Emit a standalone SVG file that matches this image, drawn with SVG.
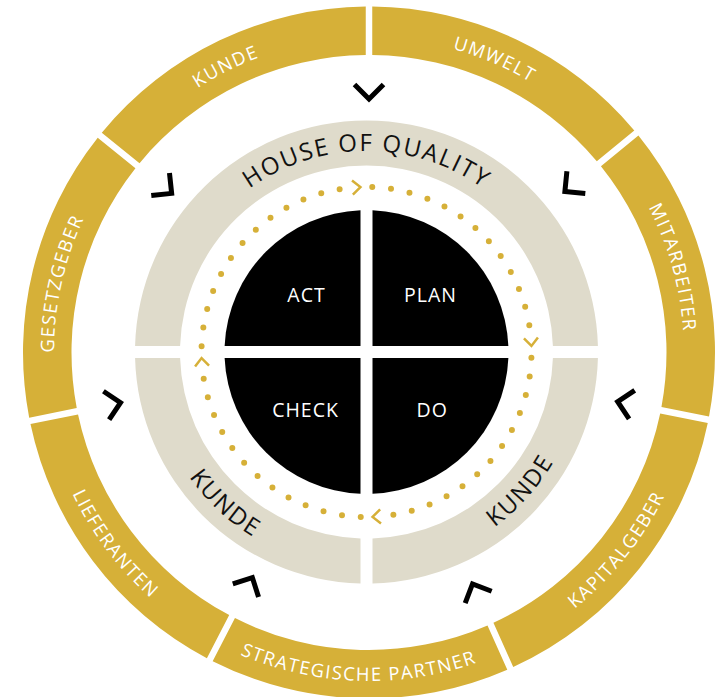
<svg xmlns="http://www.w3.org/2000/svg" width="717" height="697" viewBox="0 0 717 697">
<style>
.seg{fill:#d6b038}
.beige{fill:#dfdbcb}
.quad{fill:#000}
.ot{font-family:"Open Sans","Liberation Sans",sans-serif;font-size:18.5px;font-weight:400;fill:#fff;letter-spacing:1.5px;text-anchor:middle}
.it{font-family:"Open Sans","Liberation Sans",sans-serif;font-size:24px;font-weight:400;fill:#111;letter-spacing:1.8px;text-anchor:middle}
.ct{font-family:"Open Sans","Liberation Sans",sans-serif;font-size:19.5px;font-weight:400;fill:#fff;letter-spacing:1px;text-anchor:middle}
.chev{fill:none;stroke:#000;stroke-width:5;stroke-linejoin:miter}
.gchev{fill:none;stroke:#d6b038;stroke-width:2.5}
.dots{fill:none;stroke:#d6b038;stroke-width:6;stroke-linecap:round;stroke-dasharray:0 18.862}
</style>
<defs>
<path id="outerTop" d="M 54 352.5 A 315 315 0 0 1 684 352.5"/>
<path id="outerBot" d="M 40.5 352.5 A 328.5 328.5 0 0 0 697.5 352.5"/>
<path id="innerTop" d="M 165.5 352 A 201 201 0 0 1 567.5 352"/>
<path id="innerBot" d="M 149.5 352 A 217 217 0 0 0 583.5 352"/>
<polyline id="bchev" class="chev" points="-14.5,-7 0,7.5 14.5,-7"/>
<polyline id="gch" class="gchev" points="-4,-7 4,0 -4,7"/>
<path id="dq" class="dots" d="M 372.26 187.10 A 165 165 0 0 1 529.47 326.19"/>
</defs>

<g id="outer-ring">
<g id="seg-umwelt"><path class="seg" d="M 372.249 6.515 A 346 346 0 0 1 634.292 130.382 L 596.811 161.167 A 297.5 297.5 0 0 0 372.250 55.018 Z"/><text class="ot" transform="rotate(23.2 369 352.5)"><textPath href="#outerTop" startOffset="50%">UMWELT</textPath></text></g>
<g id="seg-mitarbeiter"><path class="seg" d="M 638.417 135.403 A 346 346 0 0 1 709.027 416.515 L 661.448 407.093 A 297.5 297.5 0 0 0 600.939 166.189 Z"/><text class="ot" transform="rotate(74.4 369 352.5)"><textPath href="#outerTop" startOffset="50%">MITARBEITER</textPath></text></g>
<g id="seg-kapitalgeber"><path class="seg" d="M 707.764 422.889 A 346 346 0 0 1 513.242 667.000 L 493.438 622.725 A 297.5 297.5 0 0 0 660.186 413.470 Z"/><text class="ot" transform="rotate(-51.45 369 352.5)"><textPath href="#outerBot" startOffset="50%">KAPITALGEBER</textPath></text></g>
<g id="seg-partner"><path class="seg" d="M 507.310 669.654 A 346 346 0 0 1 212.662 661.167 L 234.984 618.107 A 297.5 297.5 0 0 0 487.504 625.379 Z"/><text class="ot" transform="rotate(1.9 369 352.5)"><textPath href="#outerBot" startOffset="50%">STRATEGISCHE PARTNER</textPath></text></g>
<g id="seg-lieferanten"><path class="seg" d="M 206.894 658.176 A 346 346 0 0 1 30.483 424.071 L 78.029 414.486 A 297.5 297.5 0 0 0 229.213 615.114 Z"/><text class="ot" transform="rotate(53 369 352.5)"><textPath href="#outerBot" startOffset="50%">LIEFERANTEN</textPath></text></g>
<g id="seg-gesetzgeber"><path class="seg" d="M 29.199 417.701 A 346 346 0 0 1 97.700 137.763 L 135.446 168.221 A 297.5 297.5 0 0 0 76.744 408.113 Z"/><text class="ot" transform="rotate(-77.4 369 352.5)"><textPath href="#outerTop" startOffset="50%">GESETZGEBER</textPath></text></g>
<g id="seg-kunde"><path class="seg" d="M 101.780 132.706 A 346 346 0 0 1 365.751 6.515 L 365.750 55.018 A 297.5 297.5 0 0 0 139.528 163.163 Z"/><text class="ot" transform="rotate(-26.6 369 352.5)"><textPath href="#outerTop" startOffset="50%">KUNDE</textPath></text></g>
</g>

<g id="connectors">
<g id="black-chevrons">
<use href="#bchev" transform="translate(369 91.5)"/>
<use href="#bchev" transform="translate(570.69 186.83) rotate(50.6)"/>
<use href="#bchev" transform="translate(625.03 403.19) rotate(101.2)"/>
<use href="#bchev" transform="translate(475.57 590.75) rotate(155.9)"/>
<use href="#bchev" transform="translate(248.89 584.22) rotate(207.4)"/>
<use href="#bchev" transform="translate(113.15 404.09) rotate(258.6)"/>
<use href="#bchev" transform="translate(165.82 188.67) rotate(308.9)"/>
</g>
<g id="cycle">
<use href="#dq"/>
<use href="#dq" transform="rotate(90 366.5 352)"/>
<use href="#dq" transform="rotate(180 366.5 352)"/>
<use href="#dq" transform="rotate(270 366.5 352)"/>
<use href="#gch" transform="translate(356.43 187.31) rotate(-3.5)"/>
<use href="#gch" transform="translate(531.19 341.93) rotate(86.5)"/>
<use href="#gch" transform="translate(376.57 516.69) rotate(176.5)"/>
<use href="#gch" transform="translate(201.81 362.07) rotate(266.5)"/>
</g>
</g>

<g id="house-of-quality">
<path class="beige" d="M 135.078 346 A 231.5 231.5 0 0 1 597.922 346 L 552.903 346 A 186.5 186.5 0 0 0 180.097 346 Z"/>
<text class="it"><textPath href="#innerTop" startOffset="50%">HOUSE OF QUALITY</textPath></text>
</g>
<g id="kunde-left">
<path class="beige" d="M 135.078 358 L 180.097 358 A 186.5 186.5 0 0 0 360.5 538.403 L 360.5 583.422 A 231.5 231.5 0 0 1 135.078 358 Z"/>
<text class="it" transform="rotate(43 366.5 352)"><textPath href="#innerBot" startOffset="50%">KUNDE</textPath></text>
</g>
<g id="kunde-right">
<path class="beige" d="M 372.5 538.403 L 372.5 583.422 A 231.5 231.5 0 0 0 597.922 358 L 552.903 358 A 186.5 186.5 0 0 1 372.5 538.403 Z"/>
<text class="it" transform="rotate(-48 366.5 352)"><textPath href="#innerBot" startOffset="50%">KUNDE</textPath></text>
</g>

<g id="act">
<path class="quad" d="M 360.5 346 L 224.627 346 A 142 142 0 0 1 360.5 210.127 Z"/>
<text class="ct" x="306.5" y="302.3">ACT</text>
</g>
<g id="plan">
<path class="quad" d="M 372.5 346 L 372.5 210.127 A 142 142 0 0 1 508.373 346 Z"/>
<text class="ct" x="430.5" y="302.3">PLAN</text>
</g>
<g id="do">
<path class="quad" d="M 372.5 358 L 508.373 358 A 142 142 0 0 1 372.5 493.873 Z"/>
<text class="ct" x="432.2" y="416.7">DO</text>
</g>
<g id="check">
<path class="quad" d="M 360.5 358 L 360.5 493.873 A 142 142 0 0 1 224.627 358 Z"/>
<text class="ct" x="305.5" y="416.7">CHECK</text>
</g>
</svg>
